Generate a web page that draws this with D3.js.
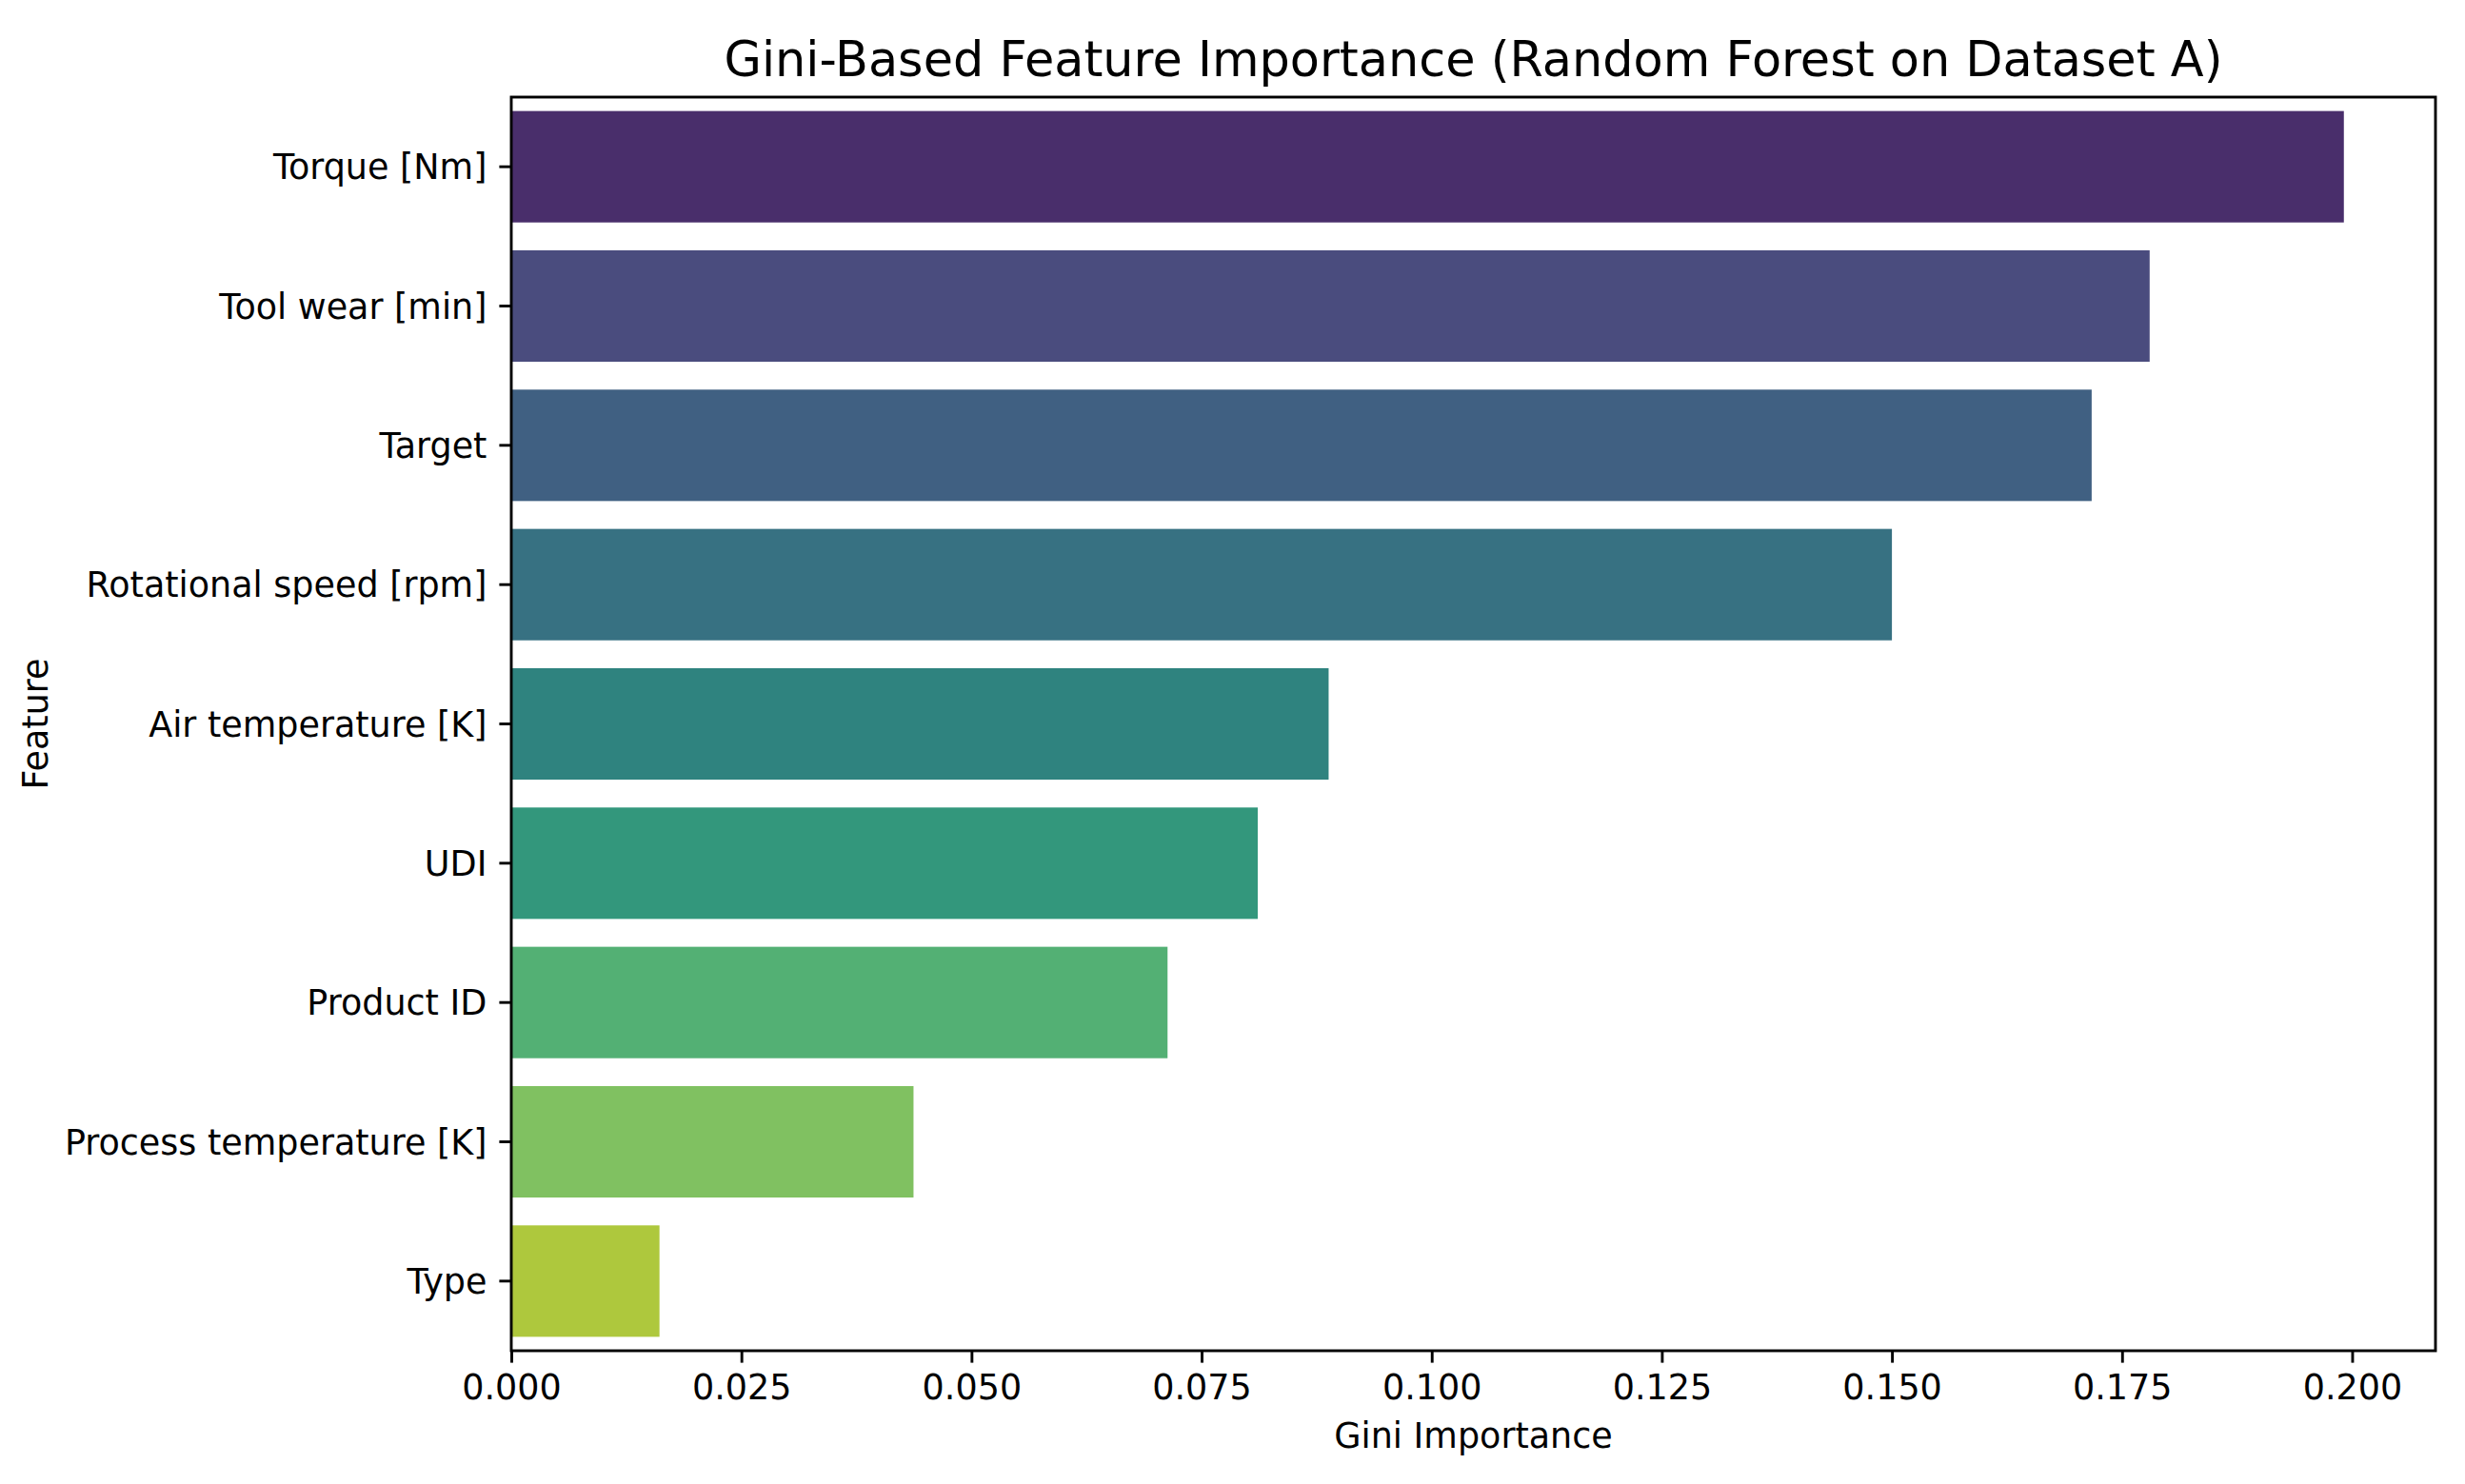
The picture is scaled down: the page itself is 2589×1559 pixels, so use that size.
<!DOCTYPE html>
<html>
<head>
<meta charset="utf-8">
<script src="https://cdn.jsdelivr.net/npm/d3@7"></script>
<style>
  html, body { margin: 0; padding: 0; background: #ffffff; }
  svg { display: block; font-family: "DejaVu Sans", sans-serif; }
</style>
</head>
<body>
<svg id="chart" width="2589" height="1559"></svg>
<script>
// ---- data ----
const features = [
  "Torque [Nm]",
  "Tool wear [min]",
  "Target",
  "Rotational speed [rpm]",
  "Air temperature [K]",
  "UDI",
  "Product ID",
  "Process temperature [K]",
  "Type"
];
const importance = [0.1991, 0.1780, 0.1717, 0.1500, 0.0888, 0.0811, 0.0713, 0.0437, 0.0161];
const xTicks = [0, 0.025, 0.05, 0.075, 0.1, 0.125, 0.15, 0.175, 0.2];
const titleText = "Gini-Based Feature Importance (Random Forest on Dataset A)";
const xLabelText = "Gini Importance";
const yLabelText = "Feature";

// viridis palette (seaborn, 9 colours) – desaturated as seaborn bars are
const basePalette = ["#482475", "#414487", "#355f8d", "#2a788e", "#21918c", "#22a884", "#44bf70", "#7ad151", "#bddf26"];

// ---- layout ----
const svg = d3.select("#chart");
const plotLeft = 537, plotRight = 2558, plotTop = 102, plotBottom = 1419;
const tickFont = 36.5;

const x = d3.scaleLinear()
  .domain([0, d3.max(importance) * 1.05])
  .range([plotLeft, plotRight]);

const y = d3.scaleBand()
  .domain(features)
  .range([plotTop, plotBottom])
  .paddingInner(0.2)
  .paddingOuter(0.1);

const colors = basePalette.map(c => { const h = d3.hsl(c); h.s *= 0.75; return h.formatHex(); });

// bars
svg.append("g")
  .selectAll("rect")
  .data(features)
  .join("rect")
  .attr("x", x(0))
  .attr("y", d => y(d))
  .attr("width", (d, i) => x(importance[i]) - x(0))
  .attr("height", y.bandwidth())
  .attr("fill", (d, i) => colors[i]);

// x axis
const xAxis = svg.append("g")
  .attr("transform", `translate(0,${plotBottom})`)
  .call(d3.axisBottom(x).tickValues(xTicks).tickFormat(d3.format(".3f")).tickSize(12.6).tickPadding(12));
xAxis.select(".domain").remove();
xAxis.selectAll(".tick line").attr("stroke", "#000").attr("stroke-width", 2.9);
xAxis.selectAll(".tick text")
  .attr("font-size", tickFont)
  .attr("fill", "#000")
  .attr("font-family", "DejaVu Sans, sans-serif")
  .attr("dy", "0.71em");

// y axis
const yAxis = svg.append("g")
  .attr("transform", `translate(${plotLeft},0)`)
  .call(d3.axisLeft(y).tickSize(12.6).tickPadding(13));
yAxis.select(".domain").remove();
yAxis.selectAll(".tick line").attr("stroke", "#000").attr("stroke-width", 2.9);
yAxis.selectAll(".tick text")
  .attr("font-size", tickFont)
  .attr("fill", "#000")
  .attr("font-family", "DejaVu Sans, sans-serif")
  .attr("dy", "0.36em");

// spines
svg.append("rect")
  .attr("x", plotLeft).attr("y", plotTop)
  .attr("width", plotRight - plotLeft).attr("height", plotBottom - plotTop)
  .attr("fill", "none").attr("stroke", "#000").attr("stroke-width", 2.9)
  .attr("stroke-linejoin", "miter");

// title
svg.append("text")
  .attr("x", (plotLeft + plotRight) / 2)
  .attr("y", 80)
  .attr("text-anchor", "middle")
  .attr("font-size", 50.9)
  .attr("fill", "#000")
  .text(titleText);

// x label
svg.append("text")
  .attr("x", (plotLeft + plotRight) / 2)
  .attr("y", 1521)
  .attr("text-anchor", "middle")
  .attr("font-size", tickFont)
  .attr("fill", "#000")
  .text(xLabelText);

// y label
svg.append("text")
  .attr("transform", `translate(50,${(plotTop + plotBottom) / 2}) rotate(-90)`)
  .attr("text-anchor", "middle")
  .attr("font-size", tickFont)
  .attr("fill", "#000")
  .text(yLabelText);
</script>
</body>
</html>
